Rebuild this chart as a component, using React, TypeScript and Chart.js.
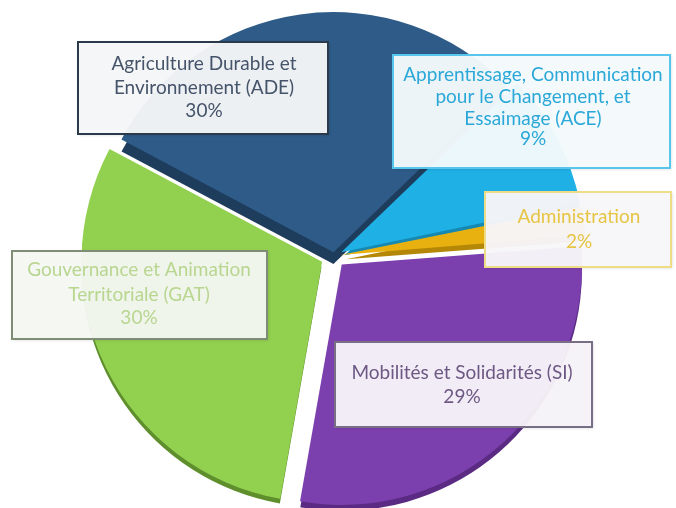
import React, { useEffect, useRef } from "react";
import { Chart, registerables } from "chart.js";
Chart.register(...registerables);

// ---- data ----
const categories = ["ADE", "ACE", "Administration", "SI", "GAT"];
const shares = [30, 9, 2, 29, 30];
const labelLines = [
  ["Agriculture Durable et", "Environnement (ADE)", "30%"],
  ["Apprentissage, Communication", "pour le Changement, et", "Essaimage (ACE)", "9%"],
  ["Administration", "2%"],
  ["Mobilités et Solidarités (SI)", "29%"],
  ["Gouvernance et Animation", "Territoriale (GAT)", "30%"],
];

// ---- styles ----
const sliceColors = ["#2e5b88", "#1fb1e6", "#e8b10f", "#7c3fae", "#92d050"];
const sideColors = ["#1e3c5c", "#1689b3", "#b48806", "#5b2b84", "#5f8f2c"];
const sliceOffsets = [15, 33, 26, 46, 53];
const sideDepth = [12, 5, 5, 6, 5];

const boxes = [
  { x: 78, y: 42, w: 250, h: 92, cx: 204, ys: [64, 88, 111], text: "#45546a", border: "#2b3a4b", fill: "rgba(246,247,249,0.96)" },
  { x: 393, y: 55, w: 277, h: 113, cx: 533, ys: [75, 97, 119, 139], text: "#2ba8d8", border: "#58c6ec", fill: "rgba(245,251,253,0.96)" },
  { x: 485, y: 192, w: 186, h: 75, cx: 579, ys: [217, 242], text: "#e6c545", border: "#efdc86", fill: "rgba(248,247,250,0.96)" },
  { x: 335, y: 342, w: 257, h: 85, cx: 462, ys: [373, 397], text: "#6d5885", border: "#786e86", fill: "rgba(247,244,249,0.96)" },
  { x: 12, y: 251, w: 255, h: 88, cx: 139, ys: [270, 295, 318], text: "#b8d690", border: "#7f8d76", fill: "rgba(245,248,243,0.96)" },
];

const depthPlugin = {
  id: "depth",
  beforeDatasetsDraw(chart: any) {
    const ctx = chart.ctx;
    const meta = chart.getDatasetMeta(0);
    meta.data.forEach((arc: any, i: number) => {
      const p = arc.getProps(["x", "y", "startAngle", "endAngle", "outerRadius", "circumference"], true);
      const half = (p.startAngle + p.endAngle) / 2;
      const off = (arc.options.offset || 0) / 4;
      const fix = 1 - Math.sin(Math.min(Math.PI, p.circumference || 0));
      const t = off * (1 + fix);
      const cx = p.x + Math.cos(half) * t;
      const cy = p.y + Math.sin(half) * t + sideDepth[i];
      ctx.save();
      ctx.beginPath();
      ctx.moveTo(cx, cy);
      ctx.arc(cx, cy, p.outerRadius, p.startAngle, p.endAngle);
      ctx.closePath();
      ctx.fillStyle = sideColors[i];
      ctx.fill();
      ctx.restore();
    });
  },
};

const labelPlugin = {
  id: "boxLabels",
  afterDatasetsDraw(chart: any) {
    const ctx = chart.ctx;
    boxes.forEach((b, i) => {
      ctx.save();
      ctx.shadowColor = "rgba(0,0,0,0.18)";
      ctx.shadowBlur = 3;
      ctx.shadowOffsetX = 1;
      ctx.shadowOffsetY = 1;
      ctx.fillStyle = b.fill;
      ctx.fillRect(b.x, b.y, b.w, b.h);
      ctx.restore();
      ctx.save();
      ctx.strokeStyle = b.border;
      ctx.lineWidth = 2;
      ctx.strokeRect(b.x, b.y, b.w, b.h);
      ctx.fillStyle = b.text;
      ctx.font = "19px Lato";
      ctx.textAlign = "center";
      ctx.textBaseline = "middle";
      labelLines[i].forEach((line, j) => {
        ctx.fillText(line, b.cx, b.ys[j]);
      });
      ctx.restore();
    });
  },
};

export default function App() {
  const ref = useRef<HTMLCanvasElement | null>(null);
  useEffect(() => {
    if (!ref.current) return;
    const chart = new Chart(ref.current, {
      type: "pie",
      data: {
        labels: categories,
        datasets: [
          {
            data: shares,
            backgroundColor: sliceColors,
            borderWidth: 0,
            offset: sliceOffsets,
            hoverOffset: 0,
            radius: 240,
          } as any,
        ],
      },
      options: {
        responsive: false,
        animation: false,
        rotation: -62,
        layout: { padding: { left: 0, right: 8, top: 4, bottom: 0 } },
        plugins: {
          legend: { display: false },
          tooltip: { enabled: false },
        },
        events: [],
      },
      plugins: [depthPlugin, labelPlugin],
    });
    return () => chart.destroy();
  }, []);
  return (
    <div style={{ position: "fixed", left: 0, top: 0, width: 676, height: 508, background: "#ffffff" }}>
      <canvas ref={ref} width={676} height={508} style={{ display: "block" }} />
    </div>
  );
}
